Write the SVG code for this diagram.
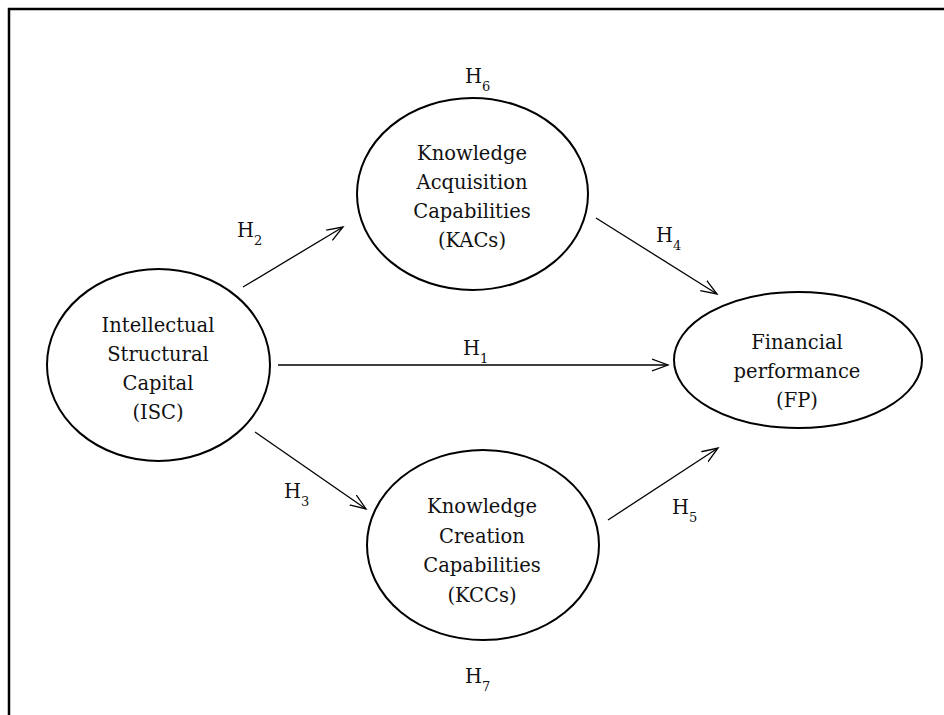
<svg xmlns="http://www.w3.org/2000/svg" width="944" height="715" viewBox="0 0 944 715">
<style>
.node{fill:#fff;stroke:#000;stroke-width:2}
.t{font-family:"DejaVu Serif","Liberation Serif",serif;font-size:19.5px;fill:#111;text-anchor:middle}
.h{font-family:"DejaVu Serif","Liberation Serif",serif;font-size:19.5px;fill:#111}
.s{font-size:13px}
.c{stroke:#000;stroke-width:1.3;fill:none;marker-end:url(#arr)}
</style>
<defs>
<marker id="arr" markerUnits="userSpaceOnUse" viewBox="0 -7 20 14" markerWidth="20" markerHeight="14" refX="16" refY="0" orient="auto">
<path d="M0,-6 L16,0 L0,6" fill="none" stroke="#000" stroke-width="1.3"/>
</marker>
</defs>
<rect width="944" height="715" fill="#fff"/>
<path d="M9,715 V9 H944" fill="none" stroke="#000" stroke-width="2.5"/>
<g id="connectors">
<line class="c" x1="243" y1="287" x2="343" y2="227"/>
<line class="c" x1="278" y1="365" x2="668" y2="365"/>
<line class="c" x1="255" y1="432" x2="366" y2="509"/>
<line class="c" x1="596" y1="218" x2="717" y2="294"/>
<line class="c" x1="608" y1="520" x2="718" y2="448"/>
</g>
<g id="labels">
<text class="h" x="237" y="237">H<tspan class="s" dy="8">2</tspan></text>
<text class="h" x="463" y="355">H<tspan class="s" dy="8">1</tspan></text>
<text class="h" x="284" y="498">H<tspan class="s" dy="8">3</tspan></text>
<text class="h" x="656" y="242">H<tspan class="s" dy="8">4</tspan></text>
<text class="h" x="672" y="514">H<tspan class="s" dy="8">5</tspan></text>
<text class="h" x="465" y="83">H<tspan class="s" dy="8">6</tspan></text>
<text class="h" x="465" y="683">H<tspan class="s" dy="8">7</tspan></text>
</g>
<g id="isc">
<ellipse class="node" cx="158.5" cy="365" rx="111.5" ry="96"/>
<text class="t" x="158" y="332">Intellectual</text>
<text class="t" x="158" y="361">Structural</text>
<text class="t" x="158" y="390">Capital</text>
<text class="t" x="158" y="419">(ISC)</text>
</g>
<g id="kac">
<ellipse class="node" cx="472.5" cy="194" rx="115.5" ry="96"/>
<text class="t" x="472" y="160">Knowledge</text>
<text class="t" x="472" y="189">Acquisition</text>
<text class="t" x="472" y="218">Capabilities</text>
<text class="t" x="472" y="247">(KACs)</text>
</g>
<g id="kcc">
<ellipse class="node" cx="483" cy="545" rx="116" ry="95"/>
<text class="t" x="482" y="513">Knowledge</text>
<text class="t" x="482" y="543">Creation</text>
<text class="t" x="482" y="572">Capabilities</text>
<text class="t" x="482" y="602">(KCCs)</text>
</g>
<g id="fp">
<ellipse class="node" cx="798" cy="360" rx="124" ry="68"/>
<text class="t" x="797" y="349">Financial</text>
<text class="t" x="797" y="378">performance</text>
<text class="t" x="797" y="407">(FP)</text>
</g>
</svg>
